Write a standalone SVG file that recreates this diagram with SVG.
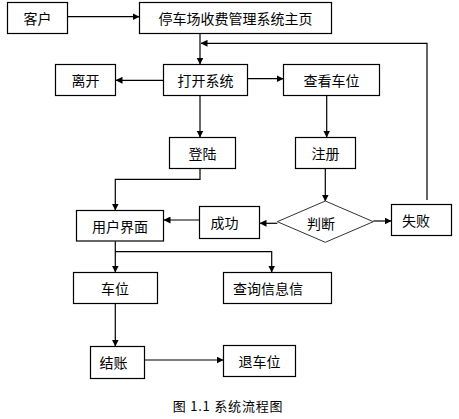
<svg xmlns="http://www.w3.org/2000/svg" width="459" height="419" viewBox="0 0 459 419">
<defs>
<marker id="ah" markerWidth="7" markerHeight="7" refX="6.5" refY="3.5" orient="auto" markerUnits="userSpaceOnUse">
<path d="M0,0 L7,3.5 L0,7 z" fill="#000"/>
</marker>
<style>
.box{fill:#fff;stroke:#000;stroke-width:1.2}
.dia{fill:#fff;stroke:#333;stroke-width:1}
.t{font-family:"Noto Sans CJK SC","Noto Sans",sans-serif;font-size:14px;fill:#000;text-anchor:middle;dominant-baseline:central}
.cap{font-family:"Noto Sans CJK SC","Noto Sans",sans-serif;font-size:13px;letter-spacing:0.8px;fill:#000;text-anchor:middle}
.c{fill:none;stroke:#000;stroke-width:1.2;marker-end:url(#ah)}
</style>
</defs>
<rect width="459" height="419" fill="#fff"/>
<g id="connectors">
<path class="c" d="M68,16.7 H139"/>
<path class="c" d="M200,33.5 V64"/>
<path class="c" d="M427,200 V43.3 H201"/>
<path class="c" d="M163,80.3 H116"/>
<path class="c" d="M247.5,78.7 H283"/>
<path class="c" d="M200,95.5 V137"/>
<path class="c" d="M326.7,95.5 V137"/>
<path class="c" d="M200,168.5 V179.3 H115.3 V210"/>
<path class="c" d="M325.3,168.5 V201"/>
<path class="c" d="M277.3,223.3 H260"/>
<path class="c" d="M199.3,220 H164"/>
<path class="c" d="M373.3,221 H391"/>
<path class="c" d="M115.3,241.2 V272"/>
<path class="c" d="M115.3,251.7 H271.7 V272"/>
<path class="c" d="M115.3,303.5 V346"/>
<path class="c" d="M144.5,360 H223"/>
</g>
<g id="kehu"><rect class="box" x="7.5" y="2.5" width="60" height="31"/><text class="t" x="37.5" y="18">客户</text></g>
<g id="zhuye"><rect class="box" x="139.5" y="2.5" width="192" height="31"/><text class="t" x="235.5" y="18">停车场收费管理系统主页</text></g>
<g id="likai"><rect class="box" x="55.5" y="64.5" width="60" height="31"/><text class="t" x="85.5" y="80">离开</text></g>
<g id="dakai"><rect class="box" x="163.5" y="64.5" width="84" height="31"/><text class="t" x="205.5" y="80">打开系统</text></g>
<g id="chakan"><rect class="box" x="283.5" y="64.5" width="96" height="31"/><text class="t" x="331.5" y="80">查看车位</text></g>
<g id="denglu"><rect class="box" x="169.5" y="137.5" width="66" height="31"/><text class="t" x="202.5" y="153">登陆</text></g>
<g id="zhuce"><rect class="box" x="295.5" y="137.5" width="60" height="31"/><text class="t" x="325.5" y="153">注册</text></g>
<g id="yonghu"><rect class="box" x="76.5" y="210.5" width="87" height="30.5"/><text class="t" x="120" y="226">用户界面</text></g>
<g id="chenggong"><rect class="box" x="199.5" y="206.5" width="60" height="32"/><text class="t" x="224.5" y="222">成功</text></g>
<g id="panduan"><polygon class="dia" points="325.3,201 373.3,221.7 325.3,242.3 277.3,221.7"/><text class="t" x="321" y="222.5">判断</text></g>
<g id="shibai"><rect class="box" x="391.5" y="204.5" width="60" height="31"/><text class="t" x="416" y="220">失败</text></g>
<g id="chewei"><rect class="box" x="73.5" y="272.5" width="84" height="31"/><text class="t" x="115" y="288">车位</text></g>
<g id="chaxun"><rect class="box" x="223.5" y="272.5" width="108" height="31"/><text class="t" x="268" y="288">查询信息信</text></g>
<g id="jiezhang"><rect class="box" x="90.5" y="346.5" width="54" height="32"/><text class="t" x="113.5" y="362">结账</text></g>
<g id="tuichewei"><rect class="box" x="223.5" y="345.5" width="72" height="31"/><text class="t" x="259.5" y="361">退车位</text></g>
<text class="cap" x="228" y="411">图 1.1 系统流程图</text>
</svg>
